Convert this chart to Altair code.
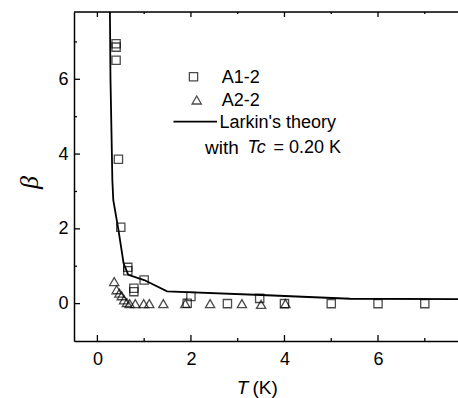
import altair as alt
import pandas as pd

# ---- data ----
a1_T = [0.40, 0.40, 0.40, 0.45, 0.50, 0.65, 0.65, 0.78, 0.78, 1.00, 1.92, 2.00, 2.78, 3.47, 4.00, 5.00, 6.00, 7.00]
a1_beta = [6.95, 6.86, 6.51, 3.86, 2.04, 0.97, 0.88, 0.41, 0.32, 0.63, 0.01, 0.19, 0.00, 0.14, 0.00, 0.00, 0.00, 0.00]

a2_T = [0.36, 0.41, 0.47, 0.52, 0.57, 0.63, 0.69, 0.81, 0.99, 1.11, 1.41, 1.88, 2.41, 3.09, 3.50, 4.02]
a2_beta = [0.59, 0.37, 0.28, 0.21, 0.10, 0.03, 0.00, 0.00, 0.00, 0.00, 0.00, 0.00, 0.00, 0.00, -0.02, 0.00]

theory_T = [0.268, 0.28, 0.31, 0.32, 0.34, 0.45, 0.56, 0.66, 1.00, 1.49, 3.50, 5.40, 7.71]
theory_beta = [7.80, 6.00, 4.00, 3.30, 2.77, 1.97, 1.08, 0.77, 0.63, 0.33, 0.23, 0.13, 0.12]

x_major = [0, 2, 4, 6]
x_minor = [1, 3, 5, 7]
y_major = [0, 2, 4, 6]
y_minor = [1, 3, 5, 7]

W, H = 384, 329
FONT = "Liberation Sans"
SQ_SIZE = 68
TRI_SIZE = 85
MSW = 1.3

sq = pd.DataFrame({"T": a1_T, "beta": a1_beta})
tri = pd.DataFrame({"T": a2_T, "beta": a2_beta})
th = pd.DataFrame({"T": theory_T, "beta": theory_beta})

xs = alt.Scale(domain=[-0.5, 7.71], nice=False, zero=False)
ys = alt.Scale(domain=[-1, 7.8], nice=False, zero=False)

xaxis = alt.Axis(values=x_major, ticks=False, grid=False, domain=True, domainColor="black",
                 domainWidth=1.5, labelFont=FONT, labelFontSize=18, labelColor="black",
                 labelPadding=9, title=None)
yaxis = alt.Axis(values=y_major, ticks=False, grid=False, domain=True, domainColor="black",
                 domainWidth=1.5, labelFont=FONT, labelFontSize=18, labelColor="black",
                 labelPadding=6, title="β", titleFont="Liberation Serif", titleFontStyle="italic",
                 titleFontWeight="normal", titleFontSize=26, titleColor="black",
                 titleX=-45, titleY=170, titleAlign="center", titleBaseline="middle")

line = alt.Chart(th).mark_line(color="black", strokeWidth=1.8, clip=True).encode(
    x=alt.X("T:Q", scale=xs, axis=xaxis),
    y=alt.Y("beta:Q", scale=ys, axis=yaxis),
    order=alt.Order("T:Q"),
)

squares = alt.Chart(sq).mark_point(shape="square", filled=False, color="black",
                                   size=SQ_SIZE, strokeWidth=MSW, clip=True).encode(
    x=alt.X("T:Q", scale=xs), y=alt.Y("beta:Q", scale=ys))

triangles = alt.Chart(tri).mark_point(shape="triangle-up", filled=False, color="black",
                                      size=TRI_SIZE, strokeWidth=MSW, clip=True).encode(
    x=alt.X("T:Q", scale=xs), y=alt.Y("beta:Q", scale=ys))

# inward ticks
def xticks(vals, length):
    d = pd.DataFrame({"v": vals})
    bottom = alt.Chart(d).mark_rule(color="black", strokeWidth=1.3).encode(
        x=alt.X("v:Q", scale=xs), y=alt.value(H), y2=alt.value(H - length))
    top = alt.Chart(d).mark_rule(color="black", strokeWidth=1.3).encode(
        x=alt.X("v:Q", scale=xs), y=alt.value(0), y2=alt.value(length - 1))
    return [bottom, top]

def yticks(vals, length):
    d = pd.DataFrame({"v": vals})
    return [alt.Chart(d).mark_rule(color="black", strokeWidth=1.3).encode(
        y=alt.Y("v:Q", scale=ys), x=alt.value(0), x2=alt.value(length))]

ticks = xticks(x_major, 6) + xticks(x_minor, 3) + yticks(y_major, 6) + yticks(y_minor, 3)

top_border = alt.Chart(pd.DataFrame({"a": [0]})).mark_rule(color="black", strokeWidth=1.5).encode(
    x=alt.value(0), x2=alt.value(W), y=alt.value(0))

# legend
one = pd.DataFrame({"a": [0]})
leg_sq = alt.Chart(one).mark_point(shape="square", filled=False, color="black", size=SQ_SIZE,
                                   strokeWidth=MSW).encode(x=alt.value(119.5), y=alt.value(64.7))
leg_tri = alt.Chart(one).mark_point(shape="triangle-up", filled=False, color="black", size=TRI_SIZE,
                                    strokeWidth=MSW).encode(x=alt.value(122.7), y=alt.value(88))
leg_line = alt.Chart(one).mark_rule(color="black", strokeWidth=1.8).encode(
    x=alt.value(99.5), x2=alt.value(143), y=alt.value(109.7))

def txt(s, x, y, size=18, style="normal", align="left"):
    return alt.Chart(one).mark_text(text=s, font=FONT, fontSize=size, fontStyle=style,
                                    color="black", align=align, baseline="middle").encode(
        x=alt.value(x), y=alt.value(y))

legend_texts = [
    txt("A1-2", 147.7, 65.5),
    txt("A2-2", 147.7, 88.5),
    txt("Larkin's theory", 145.5, 110.5),
    txt("with", 131, 135.5, size=19),
    txt("Tc", 173.5, 135.5, style="italic"),
    txt("= 0.20 K", 199.5, 135.5),
]

xtitle = [
    txt("T", 168.5, 375.5, size=19, style="italic", align="center"),
    txt("(K)", 178.5, 375.5, size=19),
]

chart = alt.layer(
    line, squares, triangles, *ticks, top_border,
    leg_sq, leg_tri, leg_line, *legend_texts, *xtitle
).properties(
    width=W, height=H,
    autosize=alt.AutoSizeParams(type="none"),
    padding={"left": 74, "top": 12, "right": 0, "bottom": 57},
).configure_view(stroke=None).configure(background="white")

chart.save("out.html", embed_options={"renderer": "svg", "actions": False})
